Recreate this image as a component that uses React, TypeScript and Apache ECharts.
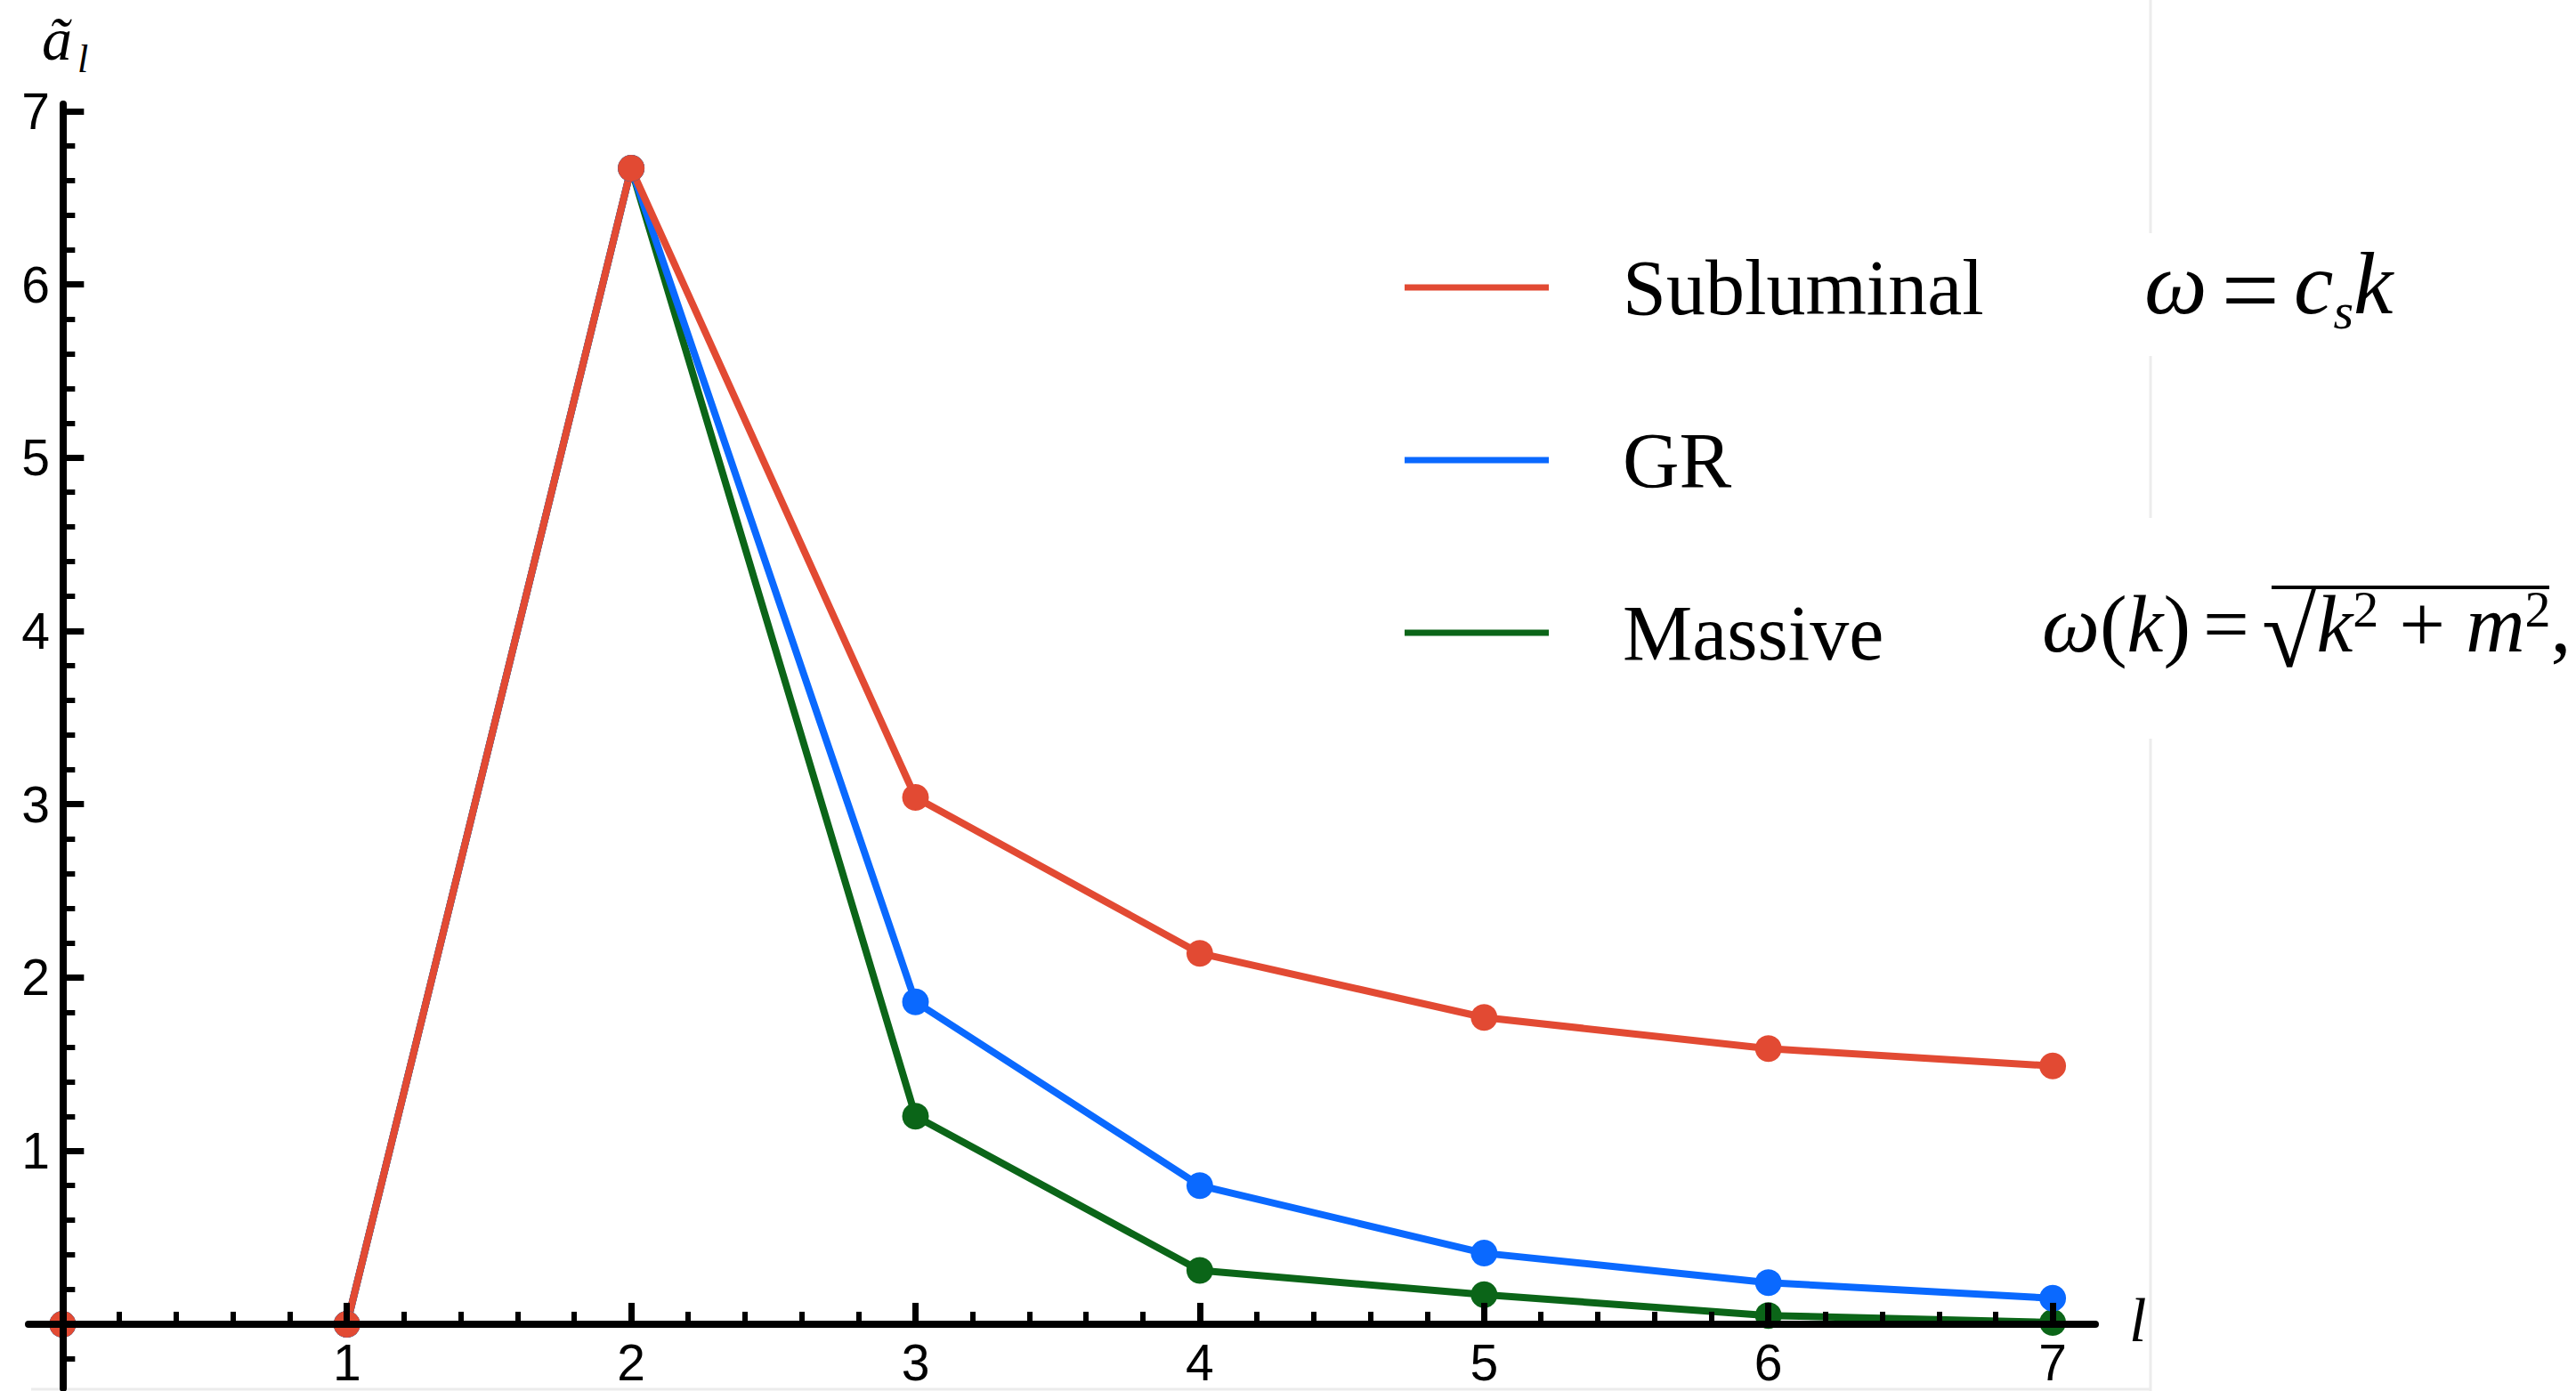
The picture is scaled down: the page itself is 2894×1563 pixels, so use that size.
import React, { useEffect, useRef } from 'react';
import * as echarts from 'echarts';

// ---- data ----
const L = [0, 1, 2, 3, 4, 5, 6, 7];
const subluminal = [0, 0, 6.67, 3.04, 2.14, 1.77, 1.59, 1.49];
const gr = [0, 0, 6.67, 1.86, 0.8, 0.41, 0.24, 0.15];
const massive = [0, 0, 6.67, 1.2, 0.31, 0.17, 0.05, 0.01];
const xTickValues = [1, 2, 3, 4, 5, 6, 7];
const yTickValues = [1, 2, 3, 4, 5, 6, 7];
const seriesNames = ['Subluminal', 'GR', 'Massive'];

const RED = '#e24a33';
const BLUE = '#0a69ff';
const GREEN = '#0b6518';

const SERIF = 'Liberation Serif';
const SANS = 'Liberation Sans';

export default function App() {
  const ref = useRef<HTMLDivElement>(null);
  useEffect(() => {
    if (!ref.current) return;
    const chart = echarts.init(ref.current, null, { renderer: 'svg' });
    const pairs = (vals: number[]) => L.map((l, i) => [l, vals[i]]);

    const axisCommon = (ticks: number[]) => ({
      type: 'value',
      z: 5,
      minInterval: 1,
      maxInterval: 1,
      splitLine: { show: false },
      axisLine: { show: true, onZero: true, lineStyle: { color: '#000', width: 8 } },
      axisTick: {
        show: true,
        inside: true,
        length: 24,
        customValues: ticks,
        lineStyle: { color: '#000', width: 7 },
      },
      minorTick: {
        show: true,
        splitNumber: 5,
        length: 14,
        lineStyle: { color: '#000', width: 6 },
      },
      axisLabel: {
        show: true,
        customValues: ticks,
        color: '#000',
        fontFamily: SANS,
        fontSize: 57,
        lineHeight: 50,
      },
    });

    const xAxis: any = axisCommon(xTickValues);
    xAxis.min = -0.12;
    xAxis.max = 7.15;
    xAxis.axisLabel.margin = -54;
    const yAxis: any = axisCommon(yTickValues);
    yAxis.min = -0.37;
    yAxis.max = 7.04;
    yAxis.axisLabel.margin = -24;

    const mkRich = (size: number, eqSize: number, eqPad: number) => {
      const base = { fontFamily: SERIF, color: '#000', lineHeight: 100, verticalAlign: 'top' };
      return {
        i: { ...base, fontStyle: 'italic', fontSize: size },
        r: { ...base, fontSize: size },
        eq: { ...base, fontSize: eqSize, padding: [0, eqPad, 0, eqPad] },
        rad: { ...base, fontSize: 112 },
        sub: { ...base, fontStyle: 'italic', fontSize: 58, lineHeight: 56, padding: [52, 0, 0, 0] },
        sup: { ...base, fontSize: 58, lineHeight: 58 },
      };
    };

    const faint = { stroke: '#ececec', lineWidth: 3 };

    const option: any = {
      animation: false,
      backgroundColor: '#ffffff',
      grid: { left: 32, top: 117, width: 2322, height: 1443, containLabel: false, outerBoundsMode: 'none' },
      xAxis,
      yAxis,
      legend: {
        data: seriesNames,
        orient: 'vertical',
        left: 1573,
        top: 260,
        itemWidth: 162,
        itemHeight: 7,
        itemGap: 78,
        icon: 'rect',
        selectedMode: false,
        textStyle: {
          fontFamily: SERIF,
          fontSize: 88,
          lineHeight: 88,
          color: '#000',
          padding: [0, 0, 28, 78],
        },
      },
      graphic: [
        // faint panel borders of the original figure
        { type: 'line', silent: true, shape: { x1: 2416, y1: 0, x2: 2416, y2: 262 }, style: faint },
        { type: 'line', silent: true, shape: { x1: 2416, y1: 400, x2: 2416, y2: 582 }, style: faint },
        { type: 'line', silent: true, shape: { x1: 2416, y1: 830, x2: 2416, y2: 1563 }, style: faint },
        { type: 'line', silent: true, shape: { x1: 35, y1: 1561, x2: 2416, y2: 1561 }, style: faint },
        // y-axis name  ã_l
        {
          type: 'text', left: 47, top: 10, silent: true,
          style: { text: 'ã', fontFamily: SERIF, fontStyle: 'italic', fontSize: 68, fill: '#000' },
        },
        {
          type: 'text', left: 87, top: 44, silent: true,
          style: { text: 'l', fontFamily: SERIF, fontStyle: 'italic', fontSize: 44, fill: '#000' },
        },
        // x-axis name  l
        {
          type: 'text', left: 2392, top: 1448, silent: true,
          style: { text: 'l', fontFamily: SERIF, fontStyle: 'italic', fontSize: 70, fill: '#000' },
        },
        // ω = c_s k
        {
          type: 'text', left: 2409, top: 268, silent: true,
          style: {
            text: '{i|ω}{eq|=}{i|c}{sub|s}{i|k}',
            rich: mkRich(100, 116, 16),
          },
        },
        // ω(k) = √(k² + m²),
        {
          type: 'text', left: 2294, top: 655, silent: true,
          style: {
            text: '{i|ω}{r|(}{i|k}{r|)}{eq|=}{rad|√}{i|k}{sup|2}{r| + }{i|m}{sup|2}{r|,}',
            rich: mkRich(92, 92, 14),
          },
        },
        {
          type: 'line', silent: true,
          shape: { x1: 2552, y1: 660, x2: 2864, y2: 660 },
          style: { stroke: '#000', lineWidth: 4 },
        },
      ],
      series: [
        {
          name: 'Massive', type: 'line', data: pairs(massive), symbol: 'circle', symbolSize: 30,
          lineStyle: { color: GREEN, width: 8 }, itemStyle: { color: GREEN }, silent: true,
        },
        {
          name: 'GR', type: 'line', data: pairs(gr), symbol: 'circle', symbolSize: 30,
          lineStyle: { color: BLUE, width: 8 }, itemStyle: { color: BLUE }, silent: true,
        },
        {
          name: 'Subluminal', type: 'line', data: pairs(subluminal), symbol: 'circle', symbolSize: 30,
          lineStyle: { color: RED, width: 8 }, itemStyle: { color: RED }, silent: true,
        },
      ],
    };
    chart.setOption(option);
    return () => chart.dispose();
  }, []);
  return (
    <div
      ref={ref}
      style={{ position: 'fixed', left: 0, top: 0, width: 2894, height: 1563, background: '#fff' }}
    />
  );
}
